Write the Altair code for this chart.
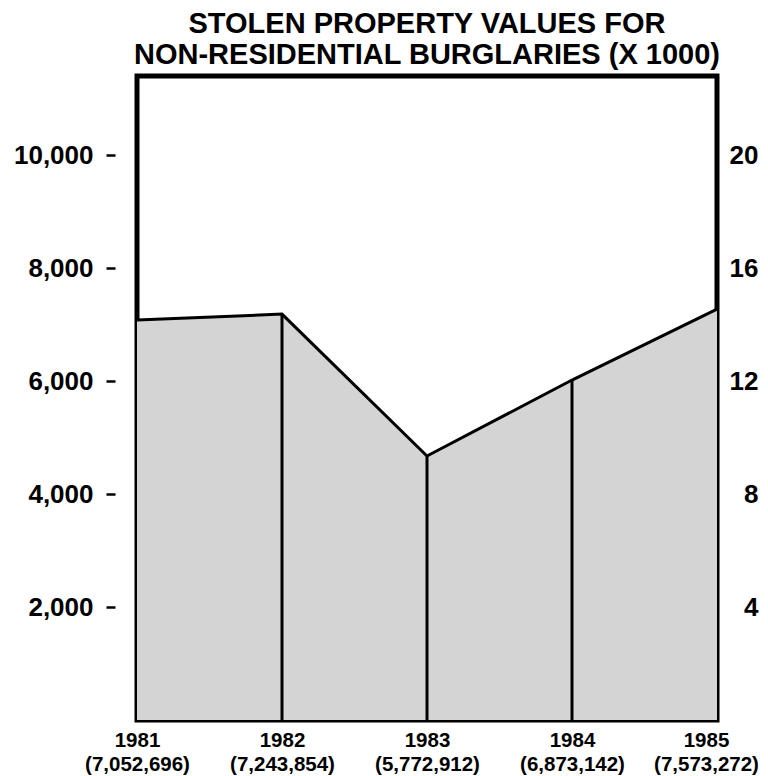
import altair as alt
import pandas as pd

# ---- data ----
years = [1981, 1982, 1983, 1984, 1985]
values = [7080, 7186, 4673, 6018, 7274]          # plotted height (x 1000)
count_labels = ["(7,052,696)", "(7,243,854)", "(5,772,912)", "(6,873,142)", "(7,573,272)"]
left_ticks = [2000, 4000, 6000, 8000, 10000]
right_ticks = [4000, 8000, 12000, 16000, 20000]
inner_years = [1982, 1983, 1984]
title_lines = ["STOLEN PROPERTY VALUES FOR", "NON-RESIDENTIAL BURGLARIES (X 1000)"]
y_max = 11400

df = pd.DataFrame({"year": years, "value": values})

FONT = "Liberation Sans, Arial, sans-serif"

label_list = "[" + ",".join("'" + s + "'" for s in count_labels) + "]"

x_enc = alt.X(
    "year:Q",
    scale=alt.Scale(domain=[years[0], years[-1]], nice=False, zero=False),
    axis=alt.Axis(
        title="",
        values=years,
        domain=False,
        ticks=False,
        grid=False,
        labelExpr="[format(datum.value, 'd'), " + label_list + "[datum.value - 1981]]",
        labelFont=FONT,
        labelFontWeight="bold",
        labelFontSize=20.5,
        labelColor="black",
        labelLineHeight=24,
        labelBaseline="alphabetic",
        labelPadding=26,
        labelOffset={"condition": {"test": "datum.value == 1985", "value": -11}, "value": 0},
        labelFlush=False,
        labelOverlap=False,
    ),
)

y_scale = alt.Scale(domain=[0, y_max], nice=False)
left_axis = alt.Axis(
    title="",
    values=left_ticks,
    format=",d",
    grid=False,
    domain=False,
    offset=22,
    tickSize=9,
    tickWidth=2.5,
    tickColor="black",
    labelFont=FONT,
    labelFontWeight="bold",
    labelFontSize=26,
    labelColor="black",
    labelPadding=13,
)

base = alt.Chart(df)

area = base.mark_area(color="#d4d4d4", opacity=1).encode(
    x=x_enc,
    y=alt.Y("value:Q", scale=y_scale, axis=left_axis),
)

line = base.mark_line(color="black", strokeWidth=3).encode(
    x="year:Q",
    y="value:Q",
)

rules = base.transform_filter(
    alt.FieldOneOfPredicate(field="year", oneOf=inner_years)
).mark_rule(color="black", strokeWidth=3).encode(
    x="year:Q",
    y="value:Q",
    y2=alt.datum(0),
)

left_layer = alt.layer(area, line, rules)

right_axis = alt.Axis(
    title="",
    orient="right",
    values=right_ticks,
    labelExpr="replace(format(datum.value, ',d'), ',000', '')",
    grid=False,
    domain=False,
    ticks=False,
    labelFont=FONT,
    labelFontWeight="bold",
    labelFontSize=26,
    labelColor="black",
    labelAlign="right",
    labelPadding=41,
)

right_layer = base.transform_calculate(v2="datum.value * 2").mark_line(opacity=0).encode(
    x="year:Q",
    y=alt.Y("v2:Q", scale=alt.Scale(domain=[0, 2 * y_max], nice=False), axis=right_axis),
)

chart = alt.layer(left_layer, right_layer).resolve_scale(y="independent").properties(
    width=580,
    height=644,
    autosize=alt.AutoSizeParams(type="none"),
    padding={"left": 129, "top": 68, "right": 43, "bottom": 56},
    background="white",
    title=alt.TitleParams(
        text=title_lines,
        font=FONT,
        fontSize=29,
        fontWeight="bold",
        color="black",
        anchor="middle",
        frame="group",
        baseline="top",
        lineHeight=31,
        offset=6,
    ),
).configure_view(stroke="black", strokeWidth=5)

chart.save("out.html", embed_options={"renderer": "svg", "actions": False})
